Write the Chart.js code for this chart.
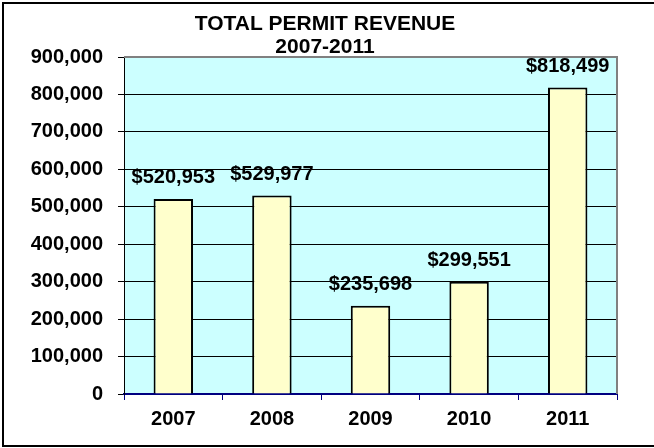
<!DOCTYPE html>
<html>
<head>
<meta charset="utf-8">
<script src="https://cdn.jsdelivr.net/npm/chart.js@4.4.0/dist/chart.umd.min.js"></script>
<style>
    html, body { margin: 0; padding: 0; background: #fff; }
    #wrap { width: 654px; height: 448px; }
</style>
</head>
<body>
<div id="wrap"><canvas id="chart" width="654" height="448"></canvas></div>
<script>
// Chart data
const years = ['2007', '2008', '2009', '2010', '2011'];
const revenue = [520953, 529977, 235698, 299551, 818499];
const titleLines = ['TOTAL PERMIT REVENUE', '2007-2011'];
const yMax = 900000;
const yStep = 100000;

const FONT = '"Liberation Sans", Arial, sans-serif';
const fmt = (v) => v.toLocaleString('en-US');

// Frame, plot background and title
const framePlugin = {
    id: 'frame',
    beforeDraw(chart) {
        const { ctx, chartArea: a } = chart;
        ctx.save();
        ctx.fillStyle = '#CCFFFF';
        ctx.fillRect(a.left, a.top, a.right - a.left, a.bottom - a.top);
        ctx.restore();
    },
    afterDraw(chart) {
        const { ctx, chartArea: a } = chart;
        ctx.save();
        // outer border (right side runs off the picture)
        ctx.strokeStyle = '#000';
        ctx.lineWidth = 2;
        ctx.strokeRect(3, 3, 670, 443);
        // gray top / right plot edges
        ctx.strokeStyle = '#808080';
        ctx.lineWidth = 2;
        ctx.beginPath();
        ctx.moveTo(a.left, a.top);
        ctx.lineTo(a.right, a.top);
        ctx.lineTo(a.right, a.bottom);
        ctx.stroke();
        // title
        ctx.fillStyle = '#000';
        ctx.font = 'bold 21px ' + FONT;
        ctx.textAlign = 'center';
        ctx.textBaseline = 'alphabetic';
        ctx.fillText(titleLines[0], 325, 30);
        ctx.fillText(titleLines[1], 325, 53);
        ctx.restore();
    }
};

// Value labels above bars
const labelPlugin = {
    id: 'barLabels',
    afterDatasetsDraw(chart) {
        const { ctx } = chart;
        const meta = chart.getDatasetMeta(0);
        ctx.save();
        ctx.fillStyle = '#000';
        ctx.font = 'bold 20px ' + FONT;
        ctx.textAlign = 'center';
        ctx.textBaseline = 'alphabetic';
        meta.data.forEach((bar, i) => {
            ctx.fillText('$' + fmt(revenue[i]), bar.x, bar.y - 16);
        });
        ctx.restore();
    }
};

new Chart(document.getElementById('chart'), {
    type: 'bar',
    data: {
        labels: years,
        datasets: [{
            data: revenue,
            backgroundColor: '#FFFFCC',
            borderColor: '#000',
            borderWidth: 2,
            barPercentage: 0.4,
            categoryPercentage: 1.0
        }]
    },
    options: {
        responsive: false,
        animation: false,
        layout: { padding: { top: 57, right: 37, left: 0, bottom: 0 } },
        plugins: {
            legend: { display: false },
            tooltip: { enabled: false },
            title: { display: false }
        },
        scales: {
            x: {
                afterFit: (s) => { s.height = 54; },
                grid: {
                    display: true,
                    drawOnChartArea: false,
                    drawTicks: true,
                    tickLength: 6,
                    color: '#000080'
                },
                border: { display: true, color: '#000080', width: 2 },
                ticks: {
                    color: '#000',
                    padding: 7,
                    font: { family: FONT, size: 20, weight: 'bold' }
                }
            },
            y: {
                min: 0,
                max: yMax,
                afterFit: (s) => { s.width = 124; },
                grid: {
                    color: '#000',
                    lineWidth: 1,
                    tickLength: 6
                },
                border: { display: true, color: '#000', width: 1 },
                ticks: {
                    stepSize: yStep,
                    color: '#000',
                    padding: 15,
                    font: { family: FONT, size: 20, weight: 'bold' },
                    callback: (v) => fmt(v)
                }
            }
        }
    },
    plugins: [framePlugin, labelPlugin]
});
</script>
</body>
</html>
